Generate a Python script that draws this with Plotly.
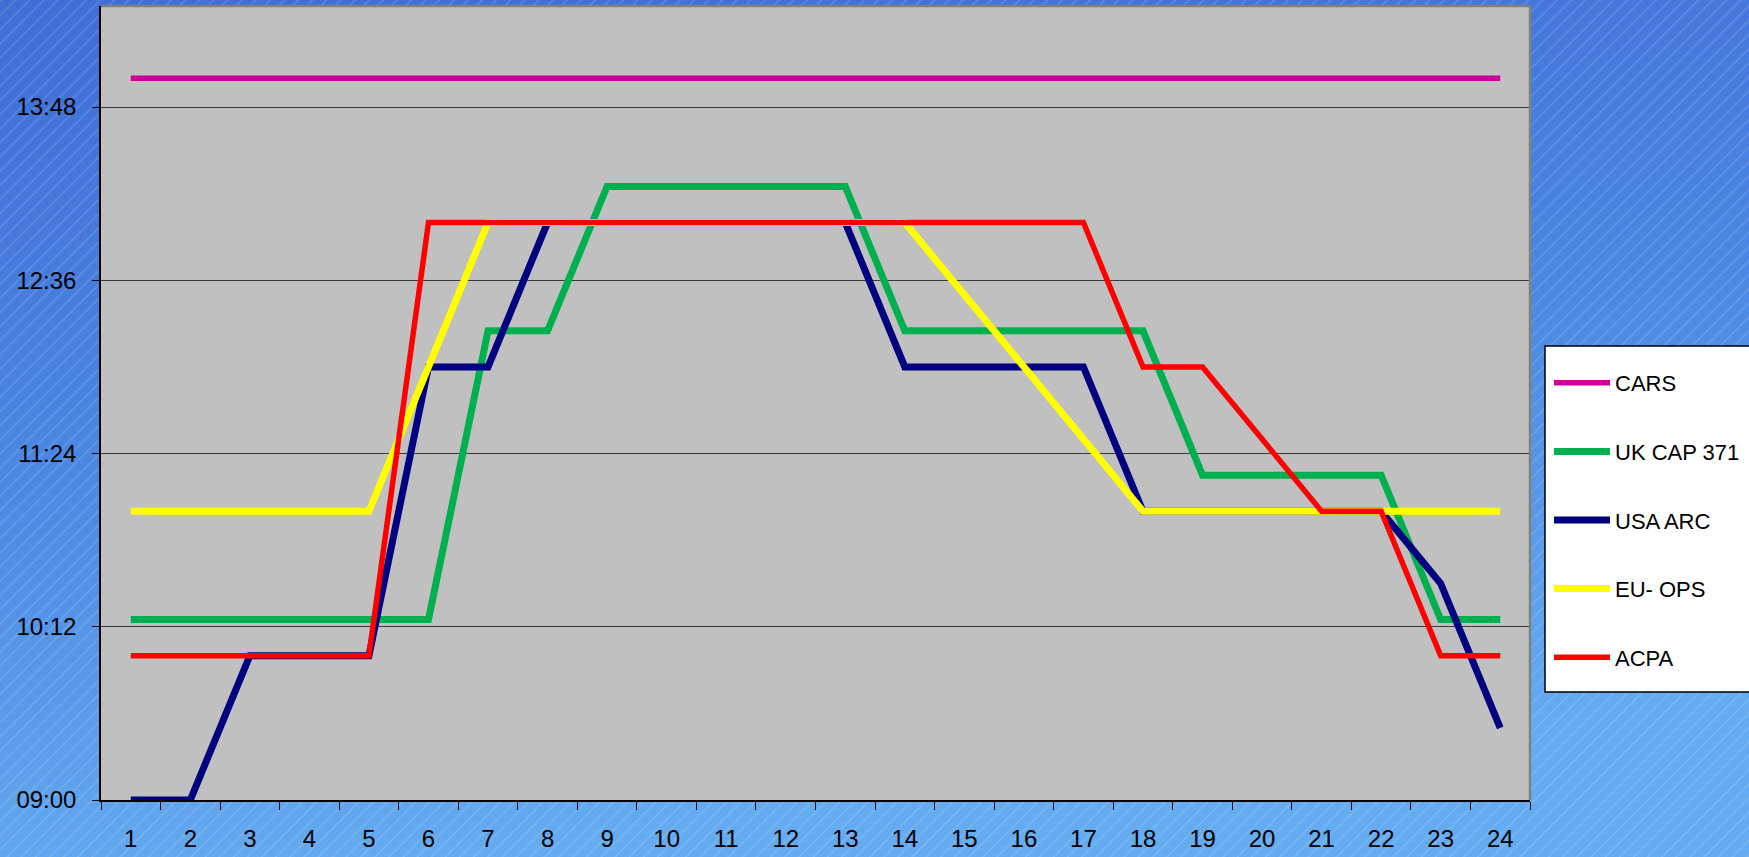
import base64
import plotly.graph_objects as go

# ---------------- data ----------------
categories = ["1", "2", "3", "4", "5", "6", "7", "8", "9", "10", "11", "12",
              "13", "14", "15", "16", "17", "18", "19", "20", "21", "22", "23", "24"]

cars = ["14:00", "14:00", "14:00", "14:00", "14:00", "14:00", "14:00", "14:00",
        "14:00", "14:00", "14:00", "14:00", "14:00", "14:00", "14:00", "14:00",
        "14:00", "14:00", "14:00", "14:00", "14:00", "14:00", "14:00", "14:00"]
uk_cap_371 = ["10:15", "10:15", "10:15", "10:15", "10:15", "10:15", "12:15", "12:15",
              "13:15", "13:15", "13:15", "13:15", "13:15", "12:15", "12:15", "12:15",
              "12:15", "12:15", "11:15", "11:15", "11:15", "11:15", "10:15", "10:15"]
usa_arc = ["09:00", "09:00", "10:00", "10:00", "10:00", "12:00", "12:00", "13:00",
           "13:00", "13:00", "13:00", "13:00", "13:00", "12:00", "12:00", "12:00",
           "12:00", "11:00", "11:00", "11:00", "11:00", "11:00", "10:30", "09:30"]
eu_ops = ["11:00", "11:00", "11:00", "11:00", "11:00", "12:00", "13:00", "13:00",
          "13:00", "13:00", "13:00", "13:00", "13:00", "13:00", "12:30", "12:00",
          "11:30", "11:00", "11:00", "11:00", "11:00", "11:00", "11:00", "11:00"]
acpa = ["10:00", "10:00", "10:00", "10:00", "10:00", "13:00", "13:00", "13:00",
        "13:00", "13:00", "13:00", "13:00", "13:00", "13:00", "13:00", "13:00",
        "13:00", "12:00", "12:00", "11:30", "11:00", "11:00", "10:00", "10:00"]

series_names = ["CARS", "UK CAP 371", "USA ARC", "EU- OPS", "ACPA"]
y_tick_labels = ["09:00", "10:12", "11:24", "12:36", "13:48"]
y_min_label = "09:00"
y_max_label = "14:30"


def to_min(s):
    h, m = s.split(":")
    return int(h) * 60 + int(m)


# ---------------- styling ----------------
W, H = 1749, 857
L, R, T, B = 101, 1530, 6, 800
FONT = "Liberation Sans, Arial, sans-serif"

colors = ["#CC0099", "#00B050", "#000080", "#FFFF00", "#FF0000"]
widths = [5.5, 7, 7, 7, 5.5]

# background: blue gradient with diagonal light stripes
svg = (
    f"<svg xmlns='http://www.w3.org/2000/svg' width='{W}' height='{H}'>"
    "<defs>"
    "<linearGradient id='g' x1='0' y1='0' x2='0.25' y2='1'>"
    "<stop offset='0' stop-color='#3f6dd5'/>"
    "<stop offset='0.5' stop-color='#4a86e2'/>"
    "<stop offset='1' stop-color='#64abf0'/>"
    "</linearGradient>"
    "<pattern id='p' width='10' height='10' patternUnits='userSpaceOnUse' "
    "patternTransform='rotate(45)'>"
    "<line x1='1' y1='0' x2='1' y2='10' stroke='white' stroke-opacity='0.14' "
    "stroke-width='1.5'/></pattern>"
    "</defs>"
    "<rect width='100%' height='100%' fill='url(#g)'/>"
    "<rect width='100%' height='100%' fill='url(#p)'/>"
    "</svg>"
)
bg_src = "data:image/svg+xml;base64," + base64.b64encode(svg.encode()).decode()

fig = go.Figure()
for i, (name, vals) in enumerate(zip(series_names, [cars, uk_cap_371, usa_arc, eu_ops, acpa])):
    fig.add_trace(go.Scatter(
        x=categories,
        y=[to_min(v) for v in vals],
        mode="lines",
        name=name,
        legendgroup=name,
        line=dict(color=colors[i], width=widths[i]),
        cliponaxis=False,
        hoverinfo="skip",
    ))

pw, ph = R - L, B - T


def px_x(x):
    return (x - L) / pw


def px_y(y):
    return (B - y) / ph


fig.update_layout(
    width=W, height=H, autosize=False,
    margin=dict(l=L, r=W - R, t=T, b=H - B, pad=0, autoexpand=False),
    paper_bgcolor="#4a86e0",
    plot_bgcolor="#C0C0C0",
    font=dict(family=FONT, size=24, color="black"),
    showlegend=True,
    legend=dict(
        x=px_x(1549), xanchor="left",
        y=px_y(362), yanchor="top",
        bgcolor="rgba(0,0,0,0)", borderwidth=0,
        font=dict(family=FONT, size=22, color="black"),
        traceorder="grouped", tracegroupgap=37,
        itemwidth=56,
    ),
    images=[dict(
        source=bg_src, xref="paper", yref="paper",
        x=-L / pw, y=1 + T / ph, sizex=W / pw, sizey=H / ph,
        xanchor="left", yanchor="top", sizing="stretch", layer="below",
    )],
    xaxis=dict(
        type="category",
        range=[-0.5, 23.5],
        tickson="boundaries",
        ticks="outside", ticklen=8, tickcolor="black", tickwidth=1,
        showline=True, linecolor="black", linewidth=1.5,
        showgrid=False, zeroline=False, automargin=False,
        ticklabelstandoff=16,
        tickfont=dict(family=FONT, size=24, color="black"),
    ),
    yaxis=dict(
        range=[to_min(y_min_label), to_min(y_max_label)],
        tickvals=[to_min(t) for t in y_tick_labels],
        ticktext=y_tick_labels,
        ticks="outside", ticklen=7, tickcolor="black", tickwidth=1,
        showline=True, linecolor="black", linewidth=1.5,
        showgrid=True, gridcolor="#3a3a3a", gridwidth=1,
        zeroline=False, automargin=False,
        ticklabelstandoff=11,
        tickfont=dict(family=FONT, size=24, color="black"),
    ),
    shapes=[
        # plot area fill (drawn above the background image, below gridlines)
        dict(type="rect", xref="paper", yref="paper", x0=0, x1=1, y0=0, y1=1,
             fillcolor="#C0C0C0", line=dict(width=0), layer="below"),
        # top / right frame
        dict(type="line", xref="paper", yref="paper", x0=0, x1=1, y0=1, y1=1,
             line=dict(color="#808080", width=2.5), layer="above"),
        dict(type="line", xref="paper", yref="paper", x0=1, x1=1, y0=0, y1=1,
             line=dict(color="#808080", width=2.5), layer="above"),
        # legend box
        dict(type="rect", xref="paper", yref="paper",
             x0=px_x(1545), x1=px_x(1760), y0=px_y(692), y1=px_y(346),
             fillcolor="white", line=dict(color="black", width=1.5), layer="below"),
    ],
)

fig.write_html("out.html", config={"displayModeBar": False},
               post_script="document.body.style.margin='0px';")
